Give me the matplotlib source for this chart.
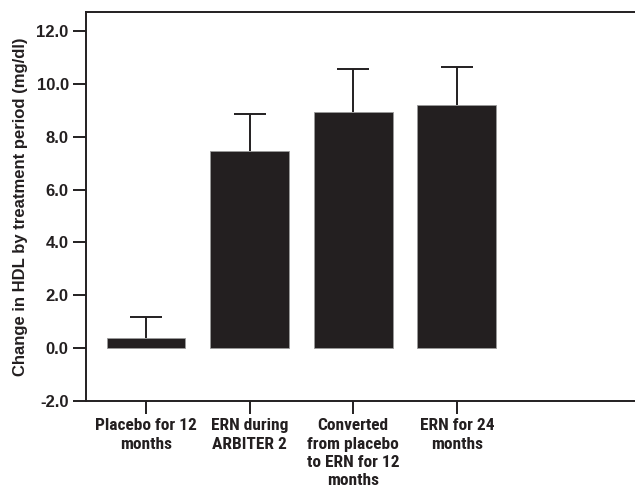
import matplotlib
matplotlib.use("Agg")
import matplotlib.pyplot as plt

plt.rcParams["font.family"] = ["Liberation Sans", "DejaVu Sans"]

categories = ["Placebo for 12\nmonths", "ERN during\nARBITER 2",
              "Converted\nfrom placebo\nto ERN for 12\nmonths", "ERN for 24\nmonths"]
means = [0.40, 7.47, 8.92, 9.21]
upper_err = [0.78, 1.40, 1.63, 1.44]

bar_color = "#231f20"

fig = plt.figure(figsize=(6.35, 4.9), dpi=100)
ax = fig.add_axes([86 / 635, 1 - 401 / 490, 1 - 86 / 635, (401 - 12) / 490])

x = list(range(len(categories)))
ax.bar(x, means, width=0.76, color=bar_color, edgecolor="#9a9a9a", linewidth=0.6, zorder=2)
eb = ax.errorbar(x, means, yerr=[[0] * len(means), upper_err], fmt="none",
                 ecolor=bar_color, elinewidth=1.4, capsize=11.5, capthick=1.4, zorder=1)
# hide the lower caps sitting on the bar tops
eb[1][0].set_visible(False)

ax.set_xlim(-0.58, 4.72)
ax.set_ylim(-2.0, 12.72)
ax.set_yticks([-2, 0, 2, 4, 6, 8, 10, 12])
ax.set_yticklabels([f"{v:.1f}" for v in [-2, 0, 2, 4, 6, 8, 10, 12]])
ax.set_xticks(x)
ax.set_xticklabels(categories, linespacing=1.27, family=["Roboto Condensed", "DejaVu Sans"])

ax.spines["right"].set_visible(False)
for s in ["left", "top", "bottom"]:
    ax.spines[s].set_linewidth(1.4)
    ax.spines[s].set_color(bar_color)
ax.tick_params(axis="both", direction="out", length=9.5, width=1.4, color=bar_color,
               labelsize=12, pad=3)
ax.tick_params(axis="x", labelsize=12.5)
for lab in ax.get_xticklabels() + ax.get_yticklabels():
    lab.set_fontweight("bold")
    lab.set_color(bar_color)

ax.set_ylabel("Change in HDL by treatment period (mg/dl)", fontsize=12,
              fontweight="bold", color=bar_color, labelpad=6)

fig.savefig("out.png", dpi=100)
